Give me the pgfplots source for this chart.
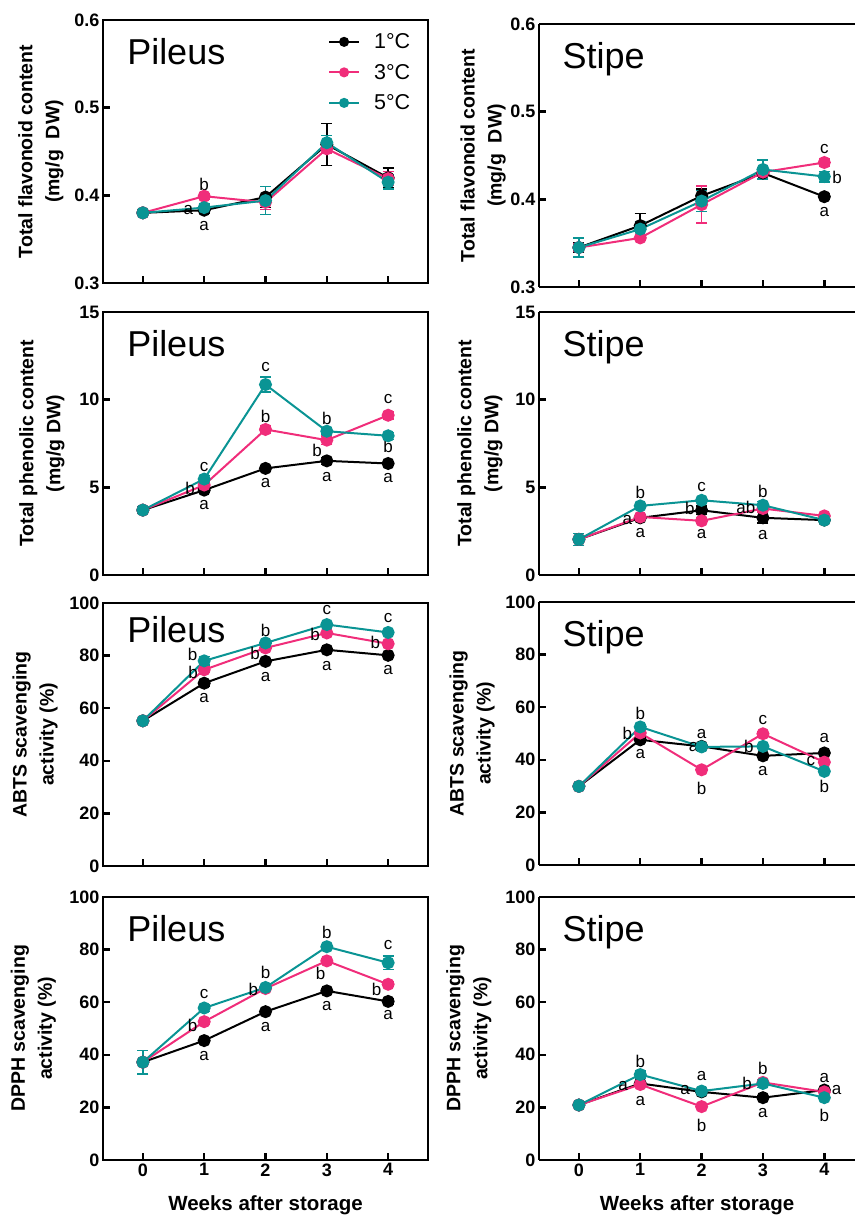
\documentclass[border=0pt]{standalone}
\usepackage{fontspec}
\setmainfont{Liberation Sans}
\usepackage{pgfplots}
\pgfplotsset{compat=1.18}
\definecolor{cA}{RGB}{0,0,0}
\definecolor{cB}{RGB}{240,45,122}
\definecolor{cC}{RGB}{10,148,148}
\newcommand{\fs}[1]{\fontsize{#1}{#1}\selectfont}
\tikzset{
  pan/.style={at={(axis description cs:0.074,0.83)}, anchor=base west, font=\fs{36}, inner sep=0pt},
  let/.style={font=\fs{17}, inner sep=0pt, anchor=center},
}
\pgfplotsset{
  ser/.style={color=#1, line width=2pt, mark=*, mark size=5.5pt, mark options={solid, fill=#1},
    error bars/.cd, y dir=both, y explicit,
    error bar style={line width=1.5pt, color=#1},
    error mark options={rotate=90, mark size=5.5pt, line width=1.5pt, color=#1}},
  base/.style={
    scale only axis, width=325pt, height=263pt,
    xmin=-0.65, xmax=4.65, xtick={0,1,2,3,4}, xticklabels={,,,,},
    axis line style={line width=2.6pt},
    major tick style={line width=2.4pt, black},
    tick align=inside, tick pos=left, major tick length=7pt,
    /pgf/number format/assume math mode=true,
    ticklabel style={font=\fs{18}\bfseries},
    clip=false,
    label style={font=\fontsize{19.5}{27}\selectfont\bfseries, align=center},
  },
  rcol/.style={width=316pt, xmax=4.5, axis y line*=left, axis x line*=box, xtick pos=bottom, ytick pos=left},
  flav/.style={ymin=0.3, ymax=0.6, ytick={0.3,0.4,0.5,0.6},
    yticklabel style={/pgf/number format/fixed, /pgf/number format/precision=1, /pgf/number format/fixed zerofill},
    ylabel={Total flavonoid content\\(mg/g\ \ DW)}},
  phen/.style={ymin=0, ymax=15, ytick={0,5,10,15}, ylabel={Total phenolic content\\(mg/g DW)}},
  abts/.style={ymin=0, ymax=100, ytick={0,20,40,60,80,100}, ylabel={ABTS scavenging\\activity (\%)}},
  dpph/.style={ymin=0, ymax=100, ytick={0,20,40,60,80,100}, ylabel={DPPH scavenging\\activity (\%)},
    xticklabels={0,1,2,3,4}, xlabel={Weeks after storage},
    xlabel style={at={(axis description cs:0.5,-0.173)}, anchor=center, font=\fs{20.5}\bfseries}},
}
\begin{document}
\begin{tikzpicture}
\useasboundingbox (0pt,0pt) rectangle (855pt,1216pt);
\clip (0pt,0pt) rectangle (855pt,1216pt);
%% ---------- L1
\begin{axis}[base, flav, at={(103pt,933pt)}, anchor=south west,
  ylabel style={at={(axis description cs:-0.191,0.5)}, anchor=center},
  legend style={at={(axis description cs:0.692,0.949)}, anchor=north west, draw=none, fill=none,
    font=\fs{21.5}, row sep=14pt, column sep=14pt, inner sep=0pt, nodes={inner sep=0pt}},
  legend cell align=left,
  legend image code/.code={\draw[mark repeat=2,mark phase=2,#1, mark size=4pt] plot coordinates {(0pt,0pt) (15pt,0pt) (30pt,0pt)};}]
\addplot[ser=cA] table[row sep=\\, y error=e] {x y e\\ 0 0.380 0.003\\ 1 0.383 0.003\\ 2 0.398 0.012\\ 3 0.458 0.024\\ 4 0.420 0.011\\};
\addlegendentry{1°C}
\addplot[ser=cB] table[row sep=\\, y error=e] {x y e\\ 0 0.380 0.003\\ 1 0.399 0.003\\ 2 0.392 0.008\\ 3 0.453 0.005\\ 4 0.419 0.008\\};
\addlegendentry{3°C}
\addplot[ser=cC] table[row sep=\\, y error=e] {x y e\\ 0 0.380 0.003\\ 1 0.386 0.004\\ 2 0.394 0.016\\ 3 0.460 0.008\\ 4 0.415 0.008\\};
\addlegendentry{5°C}
\node[pan] {Pileus};
\node[let] at (axis cs:1,0.4125) {b};
\node[let] at (axis cs:0.74,0.383) {a};
\node[let] at (axis cs:1,0.365) {a};
\end{axis}
%% ---------- R1
\begin{axis}[base, rcol, flav, at={(539pt,929pt)}, anchor=south west,
  ylabel style={at={(axis description cs:-0.177,0.5)}, anchor=center}]
\addplot[ser=cA] table[row sep=\\, y error=e] {x y e\\ 0 0.345 0.005\\ 1 0.370 0.014\\ 2 0.404 0.008\\ 3 0.430 0.006\\ 4 0.403 0.003\\};
\addplot[ser=cB] table[row sep=\\, y error=e] {x y e\\ 0 0.345 0.004\\ 1 0.356 0.003\\ 2 0.394 0.021\\ 3 0.431 0.005\\ 4 0.442 0.004\\};
\addplot[ser=cC] table[row sep=\\, y error=e] {x y e\\ 0 0.345 0.011\\ 1 0.366 0.008\\ 2 0.398 0.012\\ 3 0.434 0.011\\ 4 0.426 0.006\\};
\node[pan] {Stipe};
\node[let] at (axis cs:4,0.457) {c};
\node[let] at (axis cs:4.21,0.425) {b};
\node[let] at (axis cs:4,0.386) {a};
\end{axis}
%% ---------- L2
\begin{axis}[base, phen, at={(103pt,641pt)}, anchor=south west,
  ylabel style={at={(axis description cs:-0.188,0.5)}, anchor=center}]
\addplot[ser=cA] table[row sep=\\, y error=e] {x y e\\ 0 3.70 0.1\\ 1 4.84 0.1\\ 2 6.08 0.15\\ 3 6.51 0.2\\ 4 6.36 0.1\\};
\addplot[ser=cB] table[row sep=\\, y error=e] {x y e\\ 0 3.70 0.1\\ 1 5.13 0.1\\ 2 8.30 0.2\\ 3 7.69 0.25\\ 4 9.11 0.2\\};
\addplot[ser=cC] table[row sep=\\, y error=e] {x y e\\ 0 3.70 0.2\\ 1 5.47 0.2\\ 2 10.86 0.43\\ 3 8.20 0.15\\ 4 7.94 0.2\\};
\node[pan] {Pileus};
\node[let] at (axis cs:1,6.17) {c};
\node[let] at (axis cs:0.77,4.94) {b};
\node[let] at (axis cs:1,3.99) {a};
\node[let] at (axis cs:2,11.87) {c};
\node[let] at (axis cs:2,9.02) {b};
\node[let] at (axis cs:2,5.22) {a};
\node[let] at (axis cs:3,8.92) {b};
\node[let] at (axis cs:2.84,7.12) {b};
\node[let] at (axis cs:3,5.60) {a};
\node[let] at (axis cs:4,10.02) {c};
\node[let] at (axis cs:4,7.31) {b};
\node[let] at (axis cs:4,5.54) {a};
\end{axis}
%% ---------- R2
\begin{axis}[base, rcol, phen, at={(539pt,641pt)}, anchor=south west,
  ylabel style={at={(axis description cs:-0.187,0.5)}, anchor=center}]
\addplot[ser=cA] table[row sep=\\, y error=e] {x y e\\ 0 2.03 0.1\\ 1 3.26 0.1\\ 2 3.69 0.25\\ 3 3.26 0.3\\ 4 3.13 0.1\\};
\addplot[ser=cB] table[row sep=\\, y error=e] {x y e\\ 0 2.03 0.1\\ 1 3.31 0.1\\ 2 3.09 0.15\\ 3 3.79 0.2\\ 4 3.37 0.1\\};
\addplot[ser=cC] table[row sep=\\, y error=e] {x y e\\ 0 2.03 0.35\\ 1 3.94 0.1\\ 2 4.26 0.1\\ 3 3.98 0.2\\ 4 3.13 0.15\\};
\node[pan] {Stipe};
\node[let] at (axis cs:1,4.73) {b};
\node[let] at (axis cs:0.79,3.13) {a};
\node[let] at (axis cs:1,2.37) {a};
\node[let] at (axis cs:2,5.02) {c};
\node[let] at (axis cs:1.81,3.79) {b};
\node[let] at (axis cs:2,2.31) {a};
\node[let] at (axis cs:3,4.77) {b};
\node[let] at (axis cs:2.72,3.88) {ab};
\node[let] at (axis cs:3,2.27) {a};
\end{axis}
%% ---------- L3
\begin{axis}[base, abts, at={(103pt,350pt)}, anchor=south west,
  ylabel style={at={(axis description cs:-0.209,0.5)}, anchor=center}]
\addplot[ser=cA] table[row sep=\\, y error=e] {x y e\\ 0 55.2 0.5\\ 1 69.5 1.0\\ 2 77.8 0.8\\ 3 82.2 0.6\\ 4 80.1 0.6\\};
\addplot[ser=cB] table[row sep=\\, y error=e] {x y e\\ 0 55.2 0.5\\ 1 74.6 1.0\\ 2 82.9 0.8\\ 3 88.6 0.6\\ 4 84.5 0.6\\};
\addplot[ser=cC] table[row sep=\\, y error=e] {x y e\\ 0 55.2 0.5\\ 1 78.0 1.6\\ 2 84.8 0.8\\ 3 91.8 0.6\\ 4 88.8 0.6\\};
\node[pan, at={(axis description cs:0.074,0.848)}] {Pileus};
\node[let] at (axis cs:0.81,80.6) {b};
\node[let] at (axis cs:0.82,73.7) {b};
\node[let] at (axis cs:1,63.8) {a};
\node[let] at (axis cs:2,89.6) {b};
\node[let] at (axis cs:1.83,81.0) {b};
\node[let] at (axis cs:2,71.8) {a};
\node[let] at (axis cs:3,97.2) {c};
\node[let] at (axis cs:2.81,87.9) {b};
\node[let] at (axis cs:3,76.1) {a};
\node[let] at (axis cs:4,94.3) {c};
\node[let] at (axis cs:3.79,85.0) {b};
\node[let] at (axis cs:4,74.6) {a};
\end{axis}
%% ---------- R3
\begin{axis}[base, rcol, abts, at={(539pt,351pt)}, anchor=south west,
  ylabel style={at={(axis description cs:-0.212,0.5)}, anchor=center}]
\addplot[ser=cA] table[row sep=\\, y error=e] {x y e\\ 0 29.9 0.5\\ 1 47.6 0.8\\ 2 45.1 0.6\\ 3 41.5 0.6\\ 4 42.6 0.6\\};
\addplot[ser=cB] table[row sep=\\, y error=e] {x y e\\ 0 29.9 0.5\\ 1 50.2 0.8\\ 2 36.2 0.6\\ 3 49.9 0.6\\ 4 39.1 0.6\\};
\addplot[ser=cC] table[row sep=\\, y error=e] {x y e\\ 0 29.9 0.5\\ 1 52.5 0.8\\ 2 44.9 0.6\\ 3 45.1 0.6\\ 4 35.6 0.6\\};
\node[pan] {Stipe};
\node[let] at (axis cs:1,57.6) {b};
\node[let] at (axis cs:0.79,49.9) {b};
\node[let] at (axis cs:1,42.3) {a};
\node[let] at (axis cs:2,49.9) {a};
\node[let] at (axis cs:1.87,44.9) {a};
\node[let] at (axis cs:2,29.2) {b};
\node[let] at (axis cs:3,55.3) {c};
\node[let] at (axis cs:2.77,44.9) {b};
\node[let] at (axis cs:3,35.6) {a};
\node[let] at (axis cs:4,48.3) {a};
\node[let] at (axis cs:3.78,39.4) {c};
\node[let] at (axis cs:4,29.9) {b};
\end{axis}
%% ---------- L4
\begin{axis}[base, dpph, at={(103pt,56pt)}, anchor=south west,
  ylabel style={at={(axis description cs:-0.214,0.5)}, anchor=center}]
\addplot[ser=cA] table[row sep=\\, y error=e] {x y e\\ 0 37.2 0.5\\ 1 45.4 0.8\\ 2 56.4 0.8\\ 3 64.3 0.8\\ 4 60.3 1.2\\};
\addplot[ser=cB] table[row sep=\\, y error=e] {x y e\\ 0 37.2 0.5\\ 1 52.6 0.8\\ 2 65.2 0.8\\ 3 75.7 0.8\\ 4 66.8 0.8\\};
\addplot[ser=cC] table[row sep=\\, y error=e] {x y e\\ 0 37.2 4.5\\ 1 57.8 1.3\\ 2 65.6 0.8\\ 3 81.1 0.8\\ 4 75.0 2.5\\};
\node[pan] {Pileus};
\node[let] at (axis cs:1,63.1) {c};
\node[let] at (axis cs:0.81,51.3) {b};
\node[let] at (axis cs:1,39.7) {a};
\node[let] at (axis cs:2,71.2) {b};
\node[let] at (axis cs:1.80,64.7) {b};
\node[let] at (axis cs:2,50.4) {a};
\node[let] at (axis cs:3,86.4) {b};
\node[let] at (axis cs:2.90,71.0) {b};
\node[let] at (axis cs:3,58.4) {a};
\node[let] at (axis cs:4,81.6) {c};
\node[let] at (axis cs:3.81,64.9) {b};
\node[let] at (axis cs:4,55.1) {a};
\end{axis}
%% ---------- R4
\begin{axis}[base, rcol, dpph, at={(539pt,56pt)}, anchor=south west,
  ylabel style={at={(axis description cs:-0.222,0.5)}, anchor=center}]
\addplot[ser=cA] table[row sep=\\, y error=e] {x y e\\ 0 20.9 0.5\\ 1 29.1 0.8\\ 2 25.9 0.6\\ 3 23.7 0.6\\ 4 26.6 0.6\\};
\addplot[ser=cB] table[row sep=\\, y error=e] {x y e\\ 0 20.9 0.5\\ 1 28.7 0.8\\ 2 20.3 0.6\\ 3 29.5 0.6\\ 4 25.9 0.6\\};
\addplot[ser=cC] table[row sep=\\, y error=e] {x y e\\ 0 20.9 0.5\\ 1 32.5 1.3\\ 2 26.2 0.6\\ 3 29.1 1.5\\ 4 23.7 0.6\\};
\node[pan] {Stipe};
\node[let] at (axis cs:1,37.6) {b};
\node[let] at (axis cs:0.72,28.2) {a};
\node[let] at (axis cs:1,22.5) {a};
\node[let] at (axis cs:2,31.9) {a};
\node[let] at (axis cs:1.73,26.6) {a};
\node[let] at (axis cs:2,13.0) {b};
\node[let] at (axis cs:3,34.8) {b};
\node[let] at (axis cs:2.74,29.1) {b};
\node[let] at (axis cs:3,17.7) {a};
\node[let] at (axis cs:4,31.0) {a};
\node[let] at (axis cs:4.2,26.8) {a};
\node[let] at (axis cs:4,16.8) {b};
\end{axis}
\end{tikzpicture}
\end{document}
